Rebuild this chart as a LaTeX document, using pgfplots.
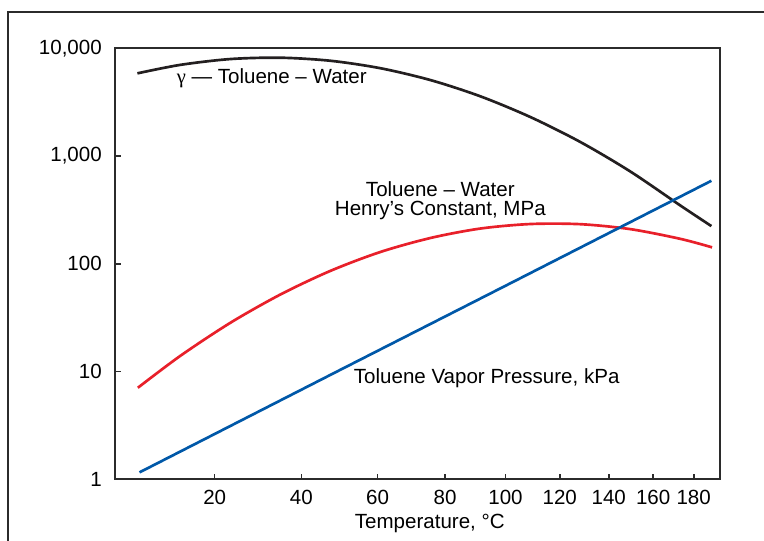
\documentclass[border=0pt]{standalone}
\usepackage{pgfplots}
\pgfplotsset{compat=1.18}
\usepackage{fontspec}
\setmainfont{Liberation Sans}
\newfontfamily\symfont{Liberation Serif}
\definecolor{axgray}{HTML}{2B2B2B}
\definecolor{hred}{HTML}{E8202A}
\definecolor{vblue}{HTML}{0058A8}
\definecolor{gblack}{HTML}{231F20}
\begin{document}
\begin{tikzpicture}
% page = 764 x 540 px at 0.75pt per px, axis box lower-left at (0,0)
\useasboundingbox (-86.5pt,-45.5pt) rectangle (486.5pt,359.5pt);
% outer frame (cut at right and bottom)
\draw[axgray, line width=1.5pt] (-80.25pt,-60pt) -- (-80.25pt,350.7pt) -- (500pt,350.7pt);
\begin{axis}[
  scale only axis,
  width=453.5pt, height=323.25pt,
  ymode=log,
  x coord trafo/.code={\pgfmathparse{-1000/(#1+273.15)}},
  x coord inv trafo/.code={\pgfmathparse{-1000/#1-273.15}},
  xmin=0, xmax=194,
  ymin=1, ymax=10000,
  xtick={20,40,60,80,100,120,140,160,180},
  xticklabels={20,40,60,80,100,120,140,160,180},
  ytick={1,10,100,1000,10000},
  yticklabels={1,10,100,{1,000},{10,000}},
  minor tick num=0,
  log basis y=10,
  tick align=inside,
  xtick pos=bottom, ytick pos=left,
  major tick length=4pt,
  tick style={axgray, line width=1.2pt},
  axis line style={axgray, line width=1.5pt},
  font=\fontsize{15.4}{18}\selectfont,
  xticklabel style={anchor=base, yshift=-18.5pt, inner sep=0pt},
  yticklabel style={anchor=east, xshift=-10pt, inner sep=0pt},
  xlabel={Temperature, °C},
  xlabel style={at={(axis description cs:0.52,0)}, anchor=base, yshift=-37pt, inner sep=0pt},
]
% gamma toluene-water
\addplot[gblack, line width=2pt, smooth] coordinates {
  (4.2,5861) (12.8,7029) (23.5,7958) (35.0,8182) (47.4,7664) (60.8,6537)
  (75.5,5070) (91.4,3585) (108.9,2304) (128.2,1350) (149.5,719) (173.2,348)
  (189.3,224)
};
% Henry's constant, MPa
\addplot[hred, line width=2pt, smooth] coordinates {
  (4.3,7.08) (12.8,14.03) (23.5,28.47) (35.0,52.1) (47.4,86.2) (60.8,128.9)
  (75.5,173.9) (91.4,212.6) (108.9,234.1) (128.2,233.3) (149.5,209.9)
  (173.2,170.6) (189.7,142.2)
};
% vapor pressure, kPa
\addplot[vblue, line width=2pt] coordinates {
  (4.6,1.16) (50,10.42) (100,62.6) (189.3,590)
};
\node[anchor=base] at (rel axis cs:0.2587,0.918) {{\symfont γ} — Toluene – Water};
\node[anchor=base] at (rel axis cs:0.5375,0.6573) {Toluene – Water};
\node[anchor=base] at (rel axis cs:0.5375,0.6116) {Henry’s Constant, MPa};
\node[anchor=base] at (rel axis cs:0.6142,0.2227) {Toluene Vapor Pressure, kPa};
\end{axis}
\end{tikzpicture}
\end{document}
